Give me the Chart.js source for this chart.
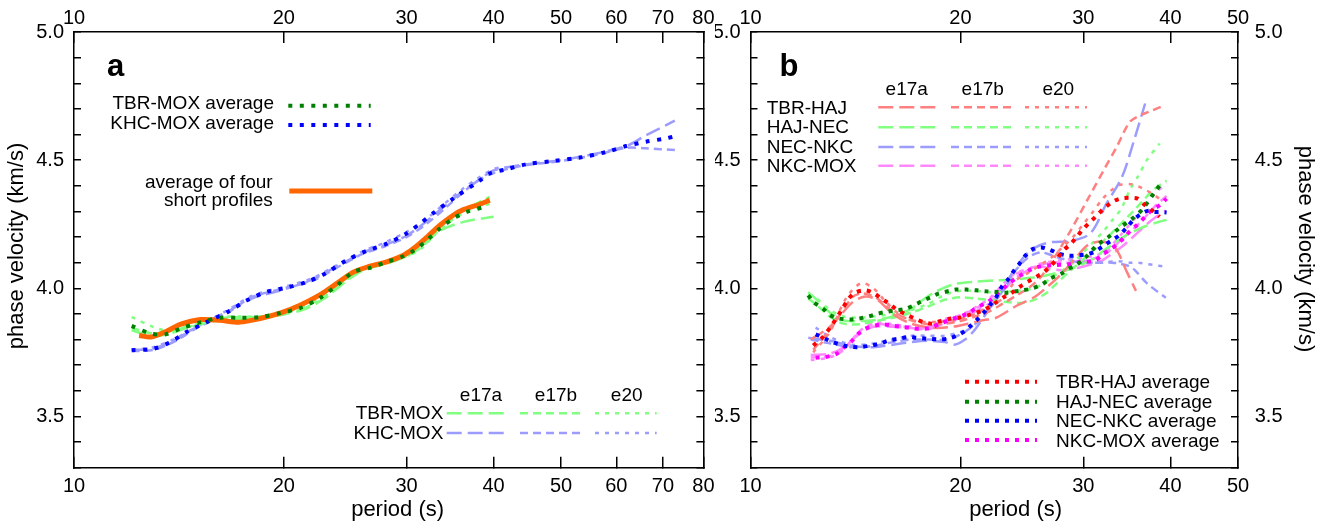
<!DOCTYPE html>
<html><head><meta charset="utf-8">
<script src="https://cdn.jsdelivr.net/npm/chart.js@4/dist/chart.umd.min.js"></script>
<style>
html,body{margin:0;padding:0;background:#fff;width:1329px;height:530px;overflow:hidden}
#wa{position:absolute;left:0;top:0;width:732px;height:530px}
#wb{position:absolute;left:715px;top:0;width:614px;height:530px}
canvas{display:block}
</style></head><body>
<div id="wa"><canvas id="ca" width="732" height="530"></canvas></div>
<div id="wb"><canvas id="cb" width="614" height="530"></canvas></div>
<script>
// ---------- axis ticks ----------
const xTicksA = [10, 20, 30, 40, 50, 60, 70, 80];
const xTicksB = [10, 20, 30, 40, 50];
const yLabelVals = [3.5, 4.0, 4.5, 5.0];
const yTickVals = [3.3, 3.4, 3.5, 3.6, 3.7, 3.8, 3.9, 4.0, 4.1, 4.2, 4.3, 4.4, 4.5, 4.6, 4.7, 4.8, 4.9, 5.0];

// ---------- panel a ----------
const tbrMoxAvgP = [12.1, 12.9, 13.5, 14.2, 15.2, 16.2, 17.3, 18.5, 19.8, 21.1, 22.5, 23.8, 25.2, 26.6, 28.1, 29.7, 30.7, 32.1, 33.5, 35.0, 36.6, 39.1];
const tbrMoxAvgV = [3.853, 3.823, 3.82, 3.842, 3.868, 3.885, 3.885, 3.888, 3.904, 3.923, 3.961, 4.01, 4.064, 4.08, 4.103, 4.125, 4.146, 4.188, 4.233, 4.272, 4.298, 4.32];
const khcMoxAvgP = [12.1, 13.0, 13.75, 14.5, 15.5, 16.6, 17.7, 18.9, 20.2, 21.6, 23.0, 24.6, 26.3, 28.1, 30.0, 31.4, 32.8, 35.0, 38.2, 39.5, 41.7, 44.6, 48.7, 53.2, 58.1, 62.0, 66.2, 70.7, 72.9];
const khcMoxAvgV = [3.758, 3.764, 3.79, 3.829, 3.868, 3.907, 3.953, 3.986, 4.003, 4.025, 4.06, 4.109, 4.146, 4.174, 4.214, 4.253, 4.294, 4.35, 4.42, 4.448, 4.464, 4.484, 4.497, 4.51, 4.532, 4.555, 4.572, 4.585, 4.594];
const fourAvgP = [12.4, 12.9, 13.5, 14.2, 15.2, 16.2, 17.3, 18.5, 19.8, 21.1, 22.5, 23.8, 25.2, 26.6, 28.1, 29.7, 30.7, 32.1, 33.5, 35.0, 36.2, 38.2, 39.5];
const fourAvgV = [3.816, 3.81, 3.829, 3.859, 3.878, 3.875, 3.868, 3.882, 3.904, 3.934, 3.973, 4.018, 4.064, 4.086, 4.103, 4.129, 4.155, 4.2, 4.246, 4.285, 4.307, 4.328, 4.344];

const tbrMoxE17aP = [12.1, 12.9, 13.6, 14.5, 15.5, 16.5, 17.5, 18.5, 20.0, 21.5, 23.0, 24.5, 26.0, 28.0, 30.0, 31.5, 33.5, 36.2, 40.0];
const tbrMoxE17aV = [3.836, 3.815, 3.82, 3.845, 3.865, 3.88, 3.88, 3.885, 3.898, 3.92, 3.965, 4.025, 4.07, 4.095, 4.125, 4.16, 4.224, 4.259, 4.279];
const tbrMoxE17bP = [12.1, 12.9, 13.6, 14.5, 15.5, 16.5, 17.5, 18.5, 20.0, 21.5, 23.0, 24.5, 26.0, 28.0, 30.0, 31.5, 33.5, 36.0, 39.5];
const tbrMoxE17bV = [3.845, 3.825, 3.83, 3.85, 3.87, 3.885, 3.887, 3.89, 3.905, 3.93, 3.975, 4.035, 4.075, 4.1, 4.13, 4.165, 4.24, 4.30, 4.357];
const tbrMoxE20P = [12.1, 13.0, 13.6, 14.5, 15.5, 16.5, 17.5, 18.5, 20.0, 21.5, 23.0, 24.5, 26.0, 28.0, 30.0, 31.5, 33.5, 36.0, 39.5];
const tbrMoxE20V = [3.888, 3.849, 3.835, 3.848, 3.868, 3.888, 3.89, 3.89, 3.905, 3.925, 3.965, 4.03, 4.075, 4.1, 4.125, 4.155, 4.23, 4.29, 4.33];

const khcMoxE17aP = [12.1, 13.0, 14.0, 15.0, 16.5, 18.0, 20.0, 22.0, 24.0, 26.0, 28.0, 30.0, 32.0, 34.0, 36.0, 38.0, 40.0, 44.0, 50.0, 56.0, 62.0, 66.0, 72.8];
const khcMoxE17aV = [3.76, 3.765, 3.80, 3.85, 3.905, 3.96, 3.995, 4.035, 4.09, 4.14, 4.17, 4.205, 4.26, 4.32, 4.375, 4.42, 4.46, 4.482, 4.50, 4.525, 4.555, 4.595, 4.654];
const khcMoxE17bP = [12.1, 13.0, 14.0, 15.0, 16.5, 18.0, 20.0, 22.0, 24.0, 26.0, 28.0, 30.0, 32.0, 34.0, 36.0, 38.0, 40.0, 44.0, 50.0, 56.0, 62.0, 66.0, 73.0];
const khcMoxE17bV = [3.755, 3.76, 3.795, 3.845, 3.90, 3.965, 4.0, 4.03, 4.085, 4.135, 4.165, 4.20, 4.25, 4.31, 4.37, 4.42, 4.45, 4.478, 4.497, 4.52, 4.548, 4.546, 4.539];
const khcMoxE20P = [12.1, 13.0, 14.0, 15.0, 16.5, 18.0, 20.0, 22.0, 24.0, 26.0, 28.0, 30.0, 32.0, 34.0, 36.0, 38.0, 40.0, 41.0];
const khcMoxE20V = [3.76, 3.77, 3.805, 3.85, 3.91, 3.97, 4.005, 4.04, 4.095, 4.145, 4.18, 4.22, 4.27, 4.33, 4.385, 4.43, 4.465, 4.472];

// ---------- panel b ----------
const tbrHajAvgP = [12.3, 12.7, 13.1, 13.5, 13.8, 14.1, 14.6, 15.0, 15.4, 15.8, 16.2, 16.8, 17.2, 17.7, 18.2, 18.7, 19.4, 20.0, 20.7, 21.4, 22.1, 22.5, 23.0, 23.7, 24.3, 25.0, 25.6, 26.3, 26.9, 27.5, 28.1, 28.8, 29.4, 30.0, 30.7, 31.4, 32.1, 33.0, 33.9, 34.9, 35.9, 36.8, 37.6, 38.6];
const tbrHajAvgV = [3.777, 3.81, 3.859, 3.914, 3.956, 3.982, 3.992, 3.982, 3.96, 3.94, 3.917, 3.895, 3.882, 3.868, 3.862, 3.872, 3.882, 3.886, 3.898, 3.911, 3.93, 3.945, 3.963, 3.983, 4.005, 4.026, 4.042, 4.062, 4.085, 4.115, 4.148, 4.174, 4.203, 4.232, 4.259, 4.285, 4.311, 4.337, 4.35, 4.353, 4.35, 4.324, 4.305, 4.279];
const hajNecAvgP = [12.1, 12.3, 12.7, 13.0, 13.4, 13.9, 14.3, 14.8, 15.2, 15.6, 16.1, 16.6, 17.1, 17.6, 18.1, 18.6, 19.3, 19.7, 20.4, 21.1, 21.8, 22.5, 23.2, 24.5, 25.3, 26.2, 26.9, 27.9, 28.6, 29.3, 30.2, 31.4, 32.6, 33.9, 35.2, 36.4, 37.9, 38.6];
const hajNecAvgV = [3.973, 3.947, 3.921, 3.895, 3.882, 3.878, 3.882, 3.891, 3.901, 3.907, 3.914, 3.918, 3.932, 3.949, 3.964, 3.979, 3.99, 3.995, 3.995, 3.992, 3.988, 3.986, 3.983, 3.992, 3.999, 4.016, 4.038, 4.057, 4.077, 4.09, 4.12, 4.168, 4.2, 4.238, 4.27, 4.306, 4.372, 4.401];
const necNkcAvgP = [12.4, 12.8, 13.1, 13.6, 14.0, 14.4, 14.9, 15.4, 15.8, 16.3, 16.9, 17.3, 17.9, 18.6, 19.2, 19.8, 20.3, 20.7, 21.2, 21.7, 22.1, 22.5, 22.9, 23.4, 23.8, 24.3, 24.8, 25.3, 26.1, 26.8, 27.7, 28.6, 29.5, 30.3, 31.1, 32.0, 33.0, 33.8, 34.7, 35.3, 36.2, 37.1, 37.9, 38.7, 39.5];
const necNkcAvgV = [3.82, 3.803, 3.79, 3.777, 3.771, 3.771, 3.777, 3.786, 3.797, 3.803, 3.81, 3.807, 3.803, 3.801, 3.803, 3.816, 3.833, 3.855, 3.882, 3.911, 3.938, 3.965, 4.005, 4.034, 4.064, 4.096, 4.129, 4.151, 4.159, 4.151, 4.135, 4.127, 4.129, 4.132, 4.142, 4.164, 4.188, 4.207, 4.24, 4.263, 4.288, 4.302, 4.298, 4.298, 4.296];
const nkcMoxAvgP = [12.4, 12.8, 13.3, 13.6, 14.0, 14.3, 14.6, 15.1, 15.5, 15.9, 16.5, 17.0, 17.5, 18.1, 18.7, 19.4, 20.0, 20.6, 21.0, 21.6, 22.1, 22.6, 23.5, 24.4, 25.1, 25.8, 27.0, 28.6, 29.6, 31.2, 32.0, 32.9, 33.6, 34.4, 35.1, 35.8, 36.8, 37.6, 38.6, 39.5];
const nkcMoxAvgV = [3.729, 3.732, 3.745, 3.768, 3.797, 3.825, 3.842, 3.855, 3.859, 3.855, 3.849, 3.845, 3.842, 3.845, 3.862, 3.878, 3.891, 3.904, 3.921, 3.938, 3.953, 3.979, 4.02, 4.051, 4.07, 4.083, 4.09, 4.094, 4.103, 4.109, 4.133, 4.154, 4.174, 4.2, 4.227, 4.246, 4.279, 4.305, 4.324, 4.35];

const tbrHajE17aP = [12.2, 13, 14, 14.6, 15.2, 16, 17, 18.4, 19.5, 20.5, 21.5, 22.5, 24, 25.5, 26.5, 28, 29.5, 30.5, 32, 33.3, 34.7, 35.7];
const tbrHajE17aV = [3.80, 3.85, 3.945, 3.968, 3.955, 3.90, 3.862, 3.845, 3.85, 3.862, 3.875, 3.885, 3.93, 3.965, 4.0, 4.06, 4.13, 4.17, 4.182, 4.16, 4.06, 3.99];
const tbrHajE17bP = [12.3, 13, 14, 14.5, 15.2, 16, 17, 18, 19, 20, 21, 22, 23, 24, 25, 26, 27.3, 28.8, 30.4, 32.1, 33.5, 35.0, 36.3, 37.3, 39.0];
const tbrHajE17bV = [3.76, 3.84, 3.965, 3.98, 3.96, 3.91, 3.875, 3.86, 3.862, 3.872, 3.89, 3.91, 3.94, 3.97, 4.0, 4.04, 4.122, 4.227, 4.344, 4.461, 4.552, 4.65, 4.676, 4.689, 4.711];
const tbrHajE20P = [12.3, 13, 13.7, 14.4, 15, 15.6, 16.5, 17.5, 19, 20, 21, 22, 23, 24, 25, 26, 27, 28, 29, 30, 31, 32, 33, 34, 35.2, 36.5, 38.1, 39.0];
const tbrHajE20V = [3.75, 3.83, 3.96, 4.02, 4.0, 3.95, 3.89, 3.87, 3.87, 3.88, 3.9, 3.93, 3.96, 4.03, 4.06, 4.09, 4.12, 4.16, 4.2, 4.25, 4.30, 4.35, 4.385, 4.405, 4.406, 4.39, 4.36, 4.34];

const hajNecE17aP = [12.1, 12.5, 13, 13.6, 14.3, 15, 16, 17, 17.5, 18.4, 19.6, 20.9, 22.4, 24, 25, 26, 27, 28, 29, 30, 31, 32, 33, 34, 35, 36.8, 38.6, 39.5];
const hajNecE17aV = [3.985, 3.95, 3.905, 3.875, 3.872, 3.875, 3.89, 3.92, 3.947, 3.986, 4.016, 4.025, 4.031, 4.035, 4.04, 4.045, 4.055, 4.065, 4.08, 4.095, 4.115, 4.145, 4.17, 4.195, 4.215, 4.242, 4.26, 4.267];
const hajNecE17bP = [12.1, 12.5, 13, 13.6, 14.3, 15, 16, 17, 18, 19, 20, 21, 22, 23, 24.5, 25.5, 26.5, 27.5, 28.5, 29.5, 30.5, 31.5, 32.5, 33.5, 34.5, 35.5, 36.5, 37.5, 38.5, 39.5];
const hajNecE17bV = [3.96, 3.93, 3.89, 3.862, 3.86, 3.87, 3.885, 3.905, 3.93, 3.955, 3.965, 3.96, 3.955, 3.948, 3.943, 3.955, 3.98, 4.02, 4.06, 4.095, 4.13, 4.165, 4.2, 4.235, 4.27, 4.305, 4.34, 4.375, 4.40, 4.42];
const hajNecE20P = [12.1, 12.5, 13, 13.6, 14.3, 15, 16, 17, 18, 19, 20, 21, 22, 23, 24, 25, 26, 27, 28, 29, 30, 31, 32, 33, 34, 35, 36, 37, 38.6];
const hajNecE20V = [3.975, 3.955, 3.915, 3.89, 3.885, 3.89, 3.9, 3.915, 3.94, 3.975, 3.99, 3.99, 3.985, 3.985, 3.99, 3.995, 4.01, 4.04, 4.07, 4.10, 4.14, 4.18, 4.22, 4.265, 4.31, 4.385, 4.44, 4.50, 4.565];

const necNkcE17aP = [12.1, 13, 14, 15, 16, 17, 18, 19, 19.6, 20.3, 21, 22, 23, 24, 25, 26, 27, 28.8, 30.7, 32.4, 34.1, 35.6, 36.8];
const necNkcE17aV = [3.807, 3.795, 3.775, 3.77, 3.78, 3.79, 3.795, 3.79, 3.78, 3.80, 3.84, 3.92, 4.0, 4.08, 4.14, 4.168, 4.18, 4.185, 4.214, 4.331, 4.435, 4.591, 4.721];
const necNkcE17bP = [12.2, 13, 14, 15, 16, 17, 18, 19, 20, 21, 22, 23, 24, 25, 26, 27, 28, 29, 30, 31, 32, 33, 34, 35, 35.6, 37, 39.4];
const necNkcE17bV = [3.80, 3.785, 3.77, 3.775, 3.79, 3.80, 3.80, 3.80, 3.82, 3.86, 3.92, 3.99, 4.07, 4.12, 4.14, 4.13, 4.115, 4.105, 4.10, 4.10, 4.10, 4.10, 4.095, 4.085, 4.07, 4.02, 3.963];
const necNkcE20P = [12.4, 13, 14, 15, 16, 17, 18, 19, 20, 21, 22, 23, 24, 25, 26, 27, 28, 29, 30, 31, 32, 33, 34, 35, 36, 37, 38, 39.0];
const necNkcE20V = [3.847, 3.81, 3.78, 3.785, 3.80, 3.815, 3.815, 3.815, 3.83, 3.86, 3.92, 3.99, 4.07, 4.13, 4.16, 4.15, 4.13, 4.115, 4.105, 4.10, 4.10, 4.105, 4.105, 4.10, 4.10, 4.095, 4.09, 4.086];

const nkcMoxE17aP = [12.2, 13, 13.6, 14.3, 15, 16, 17, 18, 19, 20, 21, 22, 23, 24, 25, 26, 27, 28, 29, 30, 31, 32, 33, 34, 35, 36, 37, 38, 39.4];
const nkcMoxE17aV = [3.74, 3.745, 3.77, 3.82, 3.85, 3.85, 3.845, 3.84, 3.865, 3.885, 3.91, 3.94, 3.99, 4.04, 4.07, 4.085, 4.075, 4.07, 4.075, 4.085, 4.095, 4.11, 4.135, 4.16, 4.19, 4.22, 4.25, 4.275, 4.303];
const nkcMoxE17bP = [12.2, 13, 13.6, 14.3, 15, 16, 17, 18, 19, 20, 21, 22, 23, 24, 25, 26, 27, 28, 29, 30, 31, 32, 33, 34, 35, 36, 37, 38, 39.5];
const nkcMoxE17bV = [3.73, 3.735, 3.765, 3.825, 3.86, 3.855, 3.848, 3.845, 3.875, 3.895, 3.92, 3.955, 4.01, 4.055, 4.075, 4.09, 4.10, 4.10, 4.10, 4.105, 4.115, 4.13, 4.155, 4.19, 4.22, 4.25, 4.285, 4.32, 4.36];
const nkcMoxE20P = [12.2, 13, 13.6, 14.3, 15, 16, 17, 18, 19, 20, 21, 22, 23, 24, 25, 26, 27, 28, 29, 30, 31, 32, 33, 34, 35, 36, 37, 38, 39.5];
const nkcMoxE20V = [3.72, 3.73, 3.76, 3.83, 3.865, 3.86, 3.85, 3.85, 3.88, 3.895, 3.925, 3.96, 4.015, 4.06, 4.075, 4.095, 4.105, 4.11, 4.115, 4.12, 4.125, 4.14, 4.17, 4.21, 4.25, 4.29, 4.33, 4.37, 4.41];

// ---------- styles ----------
const C = {
  red: '#ff0000', green: '#008000', blue: '#0000ff', magenta: '#ff00ff', orange: '#ff6600',
  lred: '#ff8080', lgreen: '#80ff80', lblue: '#9c9cff', lmag: '#ff88ff'
};
const DASH = { a17: [15, 6], b17: [8, 5], e20: [4, 6], avg: [4, 6] };
const FONT = "'Liberation Sans', Arial, Helvetica, sans-serif";
Chart.defaults.font.family = FONT;

function ds(P, V, color, width, dash, order) {
  return {
    data: P.map((p, i) => ({ x: p, y: V[i] })),
    borderColor: color, backgroundColor: color, borderWidth: width, borderDash: dash,
    pointRadius: 0, pointHoverRadius: 0, tension: 0.3, fill: false, order: order
  };
}

// legends, panel letters and axis titles
function makeDecor(id, samples, texts) {
  return {
    id: id,
    afterDraw(chart) {
      const ctx = chart.ctx;
      ctx.save();
      for (const s of samples) {
        ctx.beginPath();
        ctx.strokeStyle = s.c; ctx.lineWidth = s.w; ctx.setLineDash(s.d); ctx.lineCap = 'butt';
        ctx.moveTo(s.x1, s.y); ctx.lineTo(s.x2, s.y); ctx.stroke();
      }
      ctx.setLineDash([]);
      ctx.fillStyle = '#000';
      for (const t of texts) {
        ctx.save();
        ctx.font = t.f || ('19px ' + FONT);
        ctx.textAlign = t.al || 'left';
        ctx.textBaseline = t.bl || 'alphabetic';
        ctx.translate(t.x, t.y);
        if (t.r) ctx.rotate(t.r * Math.PI / 180);
        ctx.fillText(t.t, 0, 0);
        ctx.restore();
      }
      ctx.restore();
    }
  };
}

// inward tick marks come from Chart.js itself: negative tickLength
function scales(cfg) {
  const tickFont = { size: 20, family: FONT };
  const yTickFont = { size: 20, family: FONT, lineHeight: 0.5 };
  const xCommon = {
    type: 'logarithmic', min: cfg.xmin, max: cfg.xmax,
    afterBuildTicks: s => { s.ticks = cfg.xticks.map(v => ({ value: v })); },
    grid: { display: true, drawOnChartArea: false, drawTicks: true, tickLength: -11, color: '#000', lineWidth: 1.5 },
    border: { display: true, color: '#000', width: 1.5 }
  };
  const yCommon = {
    type: 'linear', min: 3.3, max: 5.0,
    afterBuildTicks: s => { s.ticks = yTickVals.map(v => ({ value: v })); },
    grid: { display: true, drawOnChartArea: false, drawTicks: true, tickLength: -7, color: '#000', lineWidth: 1.5 },
    border: { display: true, color: '#000', width: 1.5 }
  };
  const yLabel = v => (yLabelVals.some(l => Math.abs(l - v) < 1e-6) ? Number(v).toFixed(1) : '');
  return {
    x: Object.assign({}, xCommon, {
      position: 'bottom', afterFit: s => { s.height = 62.3; },
      ticks: { color: '#000', font: tickFont, padding: 17.5, autoSkip: false, maxRotation: 0, minRotation: 0, callback: v => String(v) }
    }),
    x2: Object.assign({}, xCommon, {
      position: 'top', afterFit: s => { s.height = 32; },
      ticks: { color: '#000', font: tickFont, padding: 13, autoSkip: false, maxRotation: 0, minRotation: 0, callback: v => String(v) }
    }),
    y: Object.assign({}, yCommon, {
      position: 'left', afterFit: s => { s.width = cfg.leftW; },
      ticks: { display: cfg.leftLabels, color: '#000', font: yTickFont, padding: 17, autoSkip: false, callback: yLabel }
    }),
    y2: Object.assign({}, yCommon, {
      position: 'right', afterFit: s => { s.width = cfg.rightW; },
      ticks: { display: cfg.rightLabels, color: '#000', font: yTickFont, padding: 23.7, autoSkip: false, callback: yLabel }
    })
  };
}

function baseOptions(sc) {
  return {
    responsive: false, animation: false, events: [],
    scales: sc,
    plugins: { legend: { display: false }, tooltip: { enabled: false } }
  };
}

// ---------- chart a ----------
const decorA = makeDecor('decorA', [
  { x1: 288.3, x2: 370.7, y: 105.7, c: C.green, w: 4, d: [4, 7.5] },
  { x1: 288.3, x2: 370.7, y: 125, c: C.blue, w: 4, d: [4, 7.5] },
  { x1: 289.3, x2: 372.3, y: 191, c: C.orange, w: 5, d: [] },
  { x1: 446.7, x2: 506.7, y: 413.3, c: C.lgreen, w: 2.5, d: DASH.a17 },
  { x1: 520, x2: 583.3, y: 413.3, c: C.lgreen, w: 2.5, d: DASH.b17 },
  { x1: 595, x2: 656.7, y: 413.3, c: C.lgreen, w: 2.5, d: DASH.e20 },
  { x1: 446.7, x2: 506.7, y: 433, c: C.lblue, w: 2.5, d: DASH.a17 },
  { x1: 520, x2: 583.3, y: 433, c: C.lblue, w: 2.5, d: DASH.b17 },
  { x1: 595, x2: 656.7, y: 433, c: C.lblue, w: 2.5, d: DASH.e20 }
], [
  { t: 'a', x: 107, y: 76, f: 'bold 31px ' + FONT },
  { t: 'TBR-MOX average', x: 274, y: 109, al: 'right' },
  { t: 'KHC-MOX average', x: 274, y: 129, al: 'right' },
  { t: 'average of four', x: 272.7, y: 188, al: 'right' },
  { t: 'short profiles', x: 272.7, y: 206, al: 'right' },
  { t: 'e17a', x: 481, y: 401, al: 'center' },
  { t: 'e17b', x: 556, y: 401, al: 'center' },
  { t: 'e20', x: 626.7, y: 401, al: 'center' },
  { t: 'TBR-MOX', x: 443.3, y: 419.3, al: 'right' },
  { t: 'KHC-MOX', x: 443.3, y: 438.7, al: 'right' },
  { t: 'phase velocity (km/s)', x: 17, y: 246, al: 'center', bl: 'middle', r: -90, f: '22px ' + FONT },
  { t: 'period (s)', x: 397.6, y: 510, al: 'center', bl: 'middle', f: '22px ' + FONT }
]);

new Chart(document.getElementById('ca'), {
  type: 'line',
  data: {
    datasets: [
      ds(tbrMoxE17aP, tbrMoxE17aV, C.lgreen, 2.5, DASH.a17, 3),
      ds(tbrMoxE17bP, tbrMoxE17bV, C.lgreen, 2.5, DASH.b17, 3),
      ds(tbrMoxE20P, tbrMoxE20V, C.lgreen, 2.5, DASH.e20, 3),
      ds(khcMoxE17aP, khcMoxE17aV, C.lblue, 2.5, DASH.a17, 3),
      ds(khcMoxE17bP, khcMoxE17bV, C.lblue, 2.5, DASH.b17, 3),
      ds(khcMoxE20P, khcMoxE20V, C.lblue, 2.5, DASH.e20, 3),
      ds(fourAvgP, fourAvgV, C.orange, 5, [], 2),
      ds(tbrMoxAvgP, tbrMoxAvgV, C.green, 4, [4, 7.5], 1),
      ds(khcMoxAvgP, khcMoxAvgV, C.blue, 4, [4, 7.5], 1)
    ]
  },
  options: baseOptions(scales({ xmin: 10, xmax: 80, xticks: xTicksA, leftW: 74, rightW: 28.5, leftLabels: true, rightLabels: false })),
  plugins: [decorA]
});

// ---------- chart b (canvas left = 715) ----------
const decorB = makeDecor('decorB', [
  { x1: 163.3, x2: 223.3, y: 107.3, c: C.lred, w: 2.5, d: DASH.a17 },
  { x1: 236, x2: 297, y: 107.3, c: C.lred, w: 2.5, d: DASH.b17 },
  { x1: 310, x2: 372, y: 107.3, c: C.lred, w: 2.5, d: DASH.e20 },
  { x1: 163.3, x2: 223.3, y: 127.3, c: C.lgreen, w: 2.5, d: DASH.a17 },
  { x1: 236, x2: 297, y: 127.3, c: C.lgreen, w: 2.5, d: DASH.b17 },
  { x1: 310, x2: 372, y: 127.3, c: C.lgreen, w: 2.5, d: DASH.e20 },
  { x1: 163.3, x2: 223.3, y: 147, c: C.lblue, w: 2.5, d: DASH.a17 },
  { x1: 236, x2: 297, y: 147, c: C.lblue, w: 2.5, d: DASH.b17 },
  { x1: 310, x2: 372, y: 147, c: C.lblue, w: 2.5, d: DASH.e20 },
  { x1: 163.3, x2: 223.3, y: 165.7, c: C.lmag, w: 2.5, d: DASH.a17 },
  { x1: 236, x2: 297, y: 165.7, c: C.lmag, w: 2.5, d: DASH.b17 },
  { x1: 310, x2: 372, y: 165.7, c: C.lmag, w: 2.5, d: DASH.e20 },
  { x1: 250, x2: 322, y: 381.7, c: C.red, w: 4, d: DASH.avg },
  { x1: 250, x2: 322, y: 401.7, c: C.green, w: 4, d: DASH.avg },
  { x1: 250, x2: 322, y: 420.7, c: C.blue, w: 4, d: DASH.avg },
  { x1: 250, x2: 322, y: 440, c: C.magenta, w: 4, d: DASH.avg }
], [
  { t: 'b', x: 64.5, y: 76, f: 'bold 31px ' + FONT },
  { t: 'e17a', x: 191.7, y: 95, al: 'center' },
  { t: 'e17b', x: 267.7, y: 95, al: 'center' },
  { t: 'e20', x: 343.3, y: 95, al: 'center' },
  { t: 'TBR-HAJ', x: 51.7, y: 114.3 },
  { t: 'HAJ-NEC', x: 51.7, y: 133.3 },
  { t: 'NEC-NKC', x: 51.7, y: 152.7 },
  { t: 'NKC-MOX', x: 51.7, y: 172.3 },
  { t: 'TBR-HAJ average', x: 341, y: 388.3 },
  { t: 'HAJ-NEC average', x: 341, y: 408.3 },
  { t: 'NEC-NKC average', x: 341, y: 427.3 },
  { t: 'NKC-MOX average', x: 341, y: 447.3 },
  { t: 'phase velocity (km/s)', x: 589.7, y: 249, al: 'center', bl: 'middle', r: 90, f: '22px ' + FONT },
  { t: 'period (s)', x: 300.6, y: 510, al: 'center', bl: 'middle', f: '22px ' + FONT }
]);

new Chart(document.getElementById('cb'), {
  type: 'line',
  data: {
    datasets: [
      ds(tbrHajE17aP, tbrHajE17aV, C.lred, 2.5, DASH.a17, 3),
      ds(tbrHajE17bP, tbrHajE17bV, C.lred, 2.5, DASH.b17, 3),
      ds(tbrHajE20P, tbrHajE20V, C.lred, 2.5, DASH.e20, 3),
      ds(hajNecE17aP, hajNecE17aV, C.lgreen, 2.5, DASH.a17, 3),
      ds(hajNecE17bP, hajNecE17bV, C.lgreen, 2.5, DASH.b17, 3),
      ds(hajNecE20P, hajNecE20V, C.lgreen, 2.5, DASH.e20, 3),
      ds(necNkcE17aP, necNkcE17aV, C.lblue, 2.5, DASH.a17, 3),
      ds(necNkcE17bP, necNkcE17bV, C.lblue, 2.5, DASH.b17, 3),
      ds(necNkcE20P, necNkcE20V, C.lblue, 2.5, DASH.e20, 3),
      ds(nkcMoxE17aP, nkcMoxE17aV, C.lmag, 2.5, DASH.a17, 3),
      ds(nkcMoxE17bP, nkcMoxE17bV, C.lmag, 2.5, DASH.b17, 3),
      ds(nkcMoxE20P, nkcMoxE20V, C.lmag, 2.5, DASH.e20, 3),
      ds(tbrHajAvgP, tbrHajAvgV, C.red, 4, DASH.avg, 1),
      ds(hajNecAvgP, hajNecAvgV, C.green, 4, DASH.avg, 1),
      ds(necNkcAvgP, necNkcAvgV, C.blue, 4, DASH.avg, 1),
      ds(nkcMoxAvgP, nkcMoxAvgV, C.magenta, 4, DASH.avg, 1)
    ]
  },
  options: baseOptions(scales({ xmin: 10, xmax: 50, xticks: xTicksB, leftW: 35.5, rightW: 91, leftLabels: true, rightLabels: true })),
  plugins: [decorB]
});
</script>
</body></html>
